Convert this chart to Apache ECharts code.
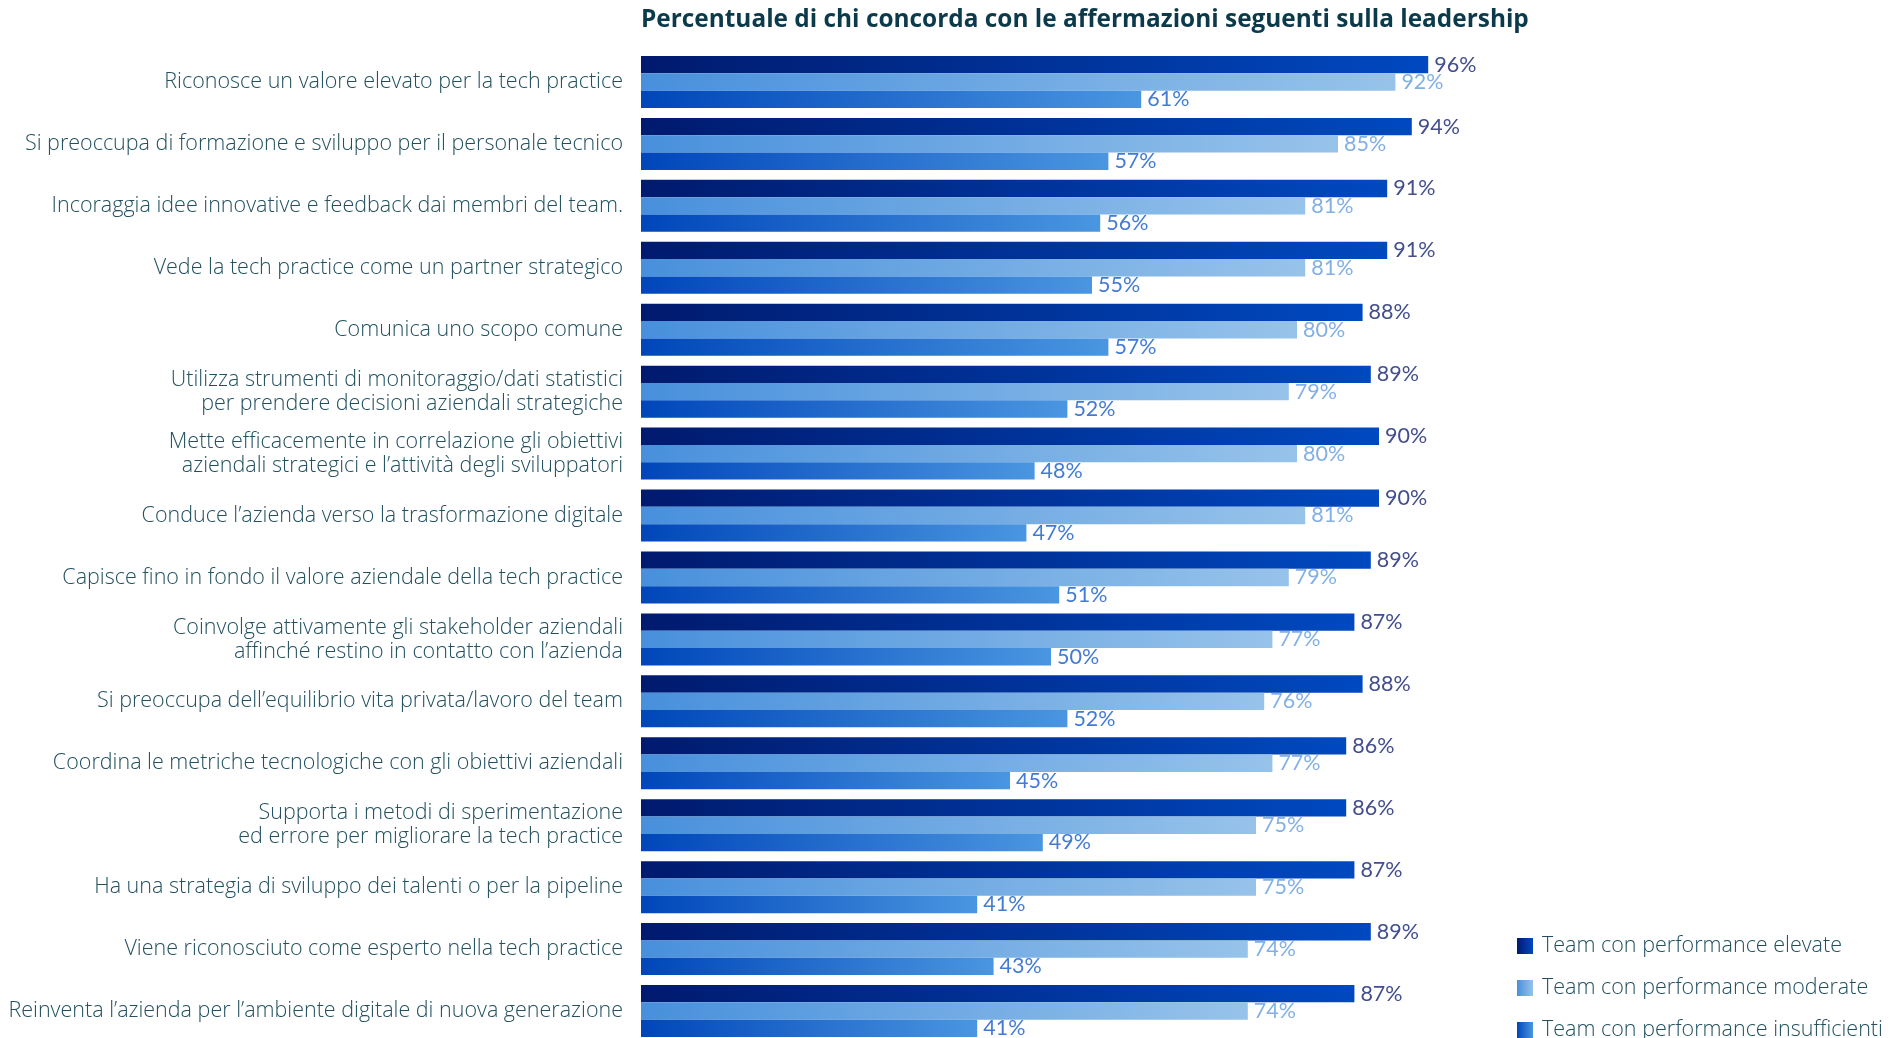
<!DOCTYPE html>
<html>
<head>
<meta charset="utf-8">
<title>Leadership</title>
<script src="https://cdn.jsdelivr.net/npm/echarts@6/dist/echarts.min.js"></script>
<style>
  html, body { margin: 0; padding: 0; background: #ffffff; }
  #chart { width: 1904px; height: 1038px; }
</style>
</head>
<body>
<div id="chart"></div>
<script>
// Affermazioni sulla leadership (dall'alto verso il basso)
const categories = [
  'Riconosce un valore elevato per la tech practice',
  'Si preoccupa di formazione e sviluppo per il personale tecnico',
  'Incoraggia idee innovative e feedback dai membri del team.',
  'Vede la tech practice come un partner strategico',
  'Comunica uno scopo comune',
  'Utilizza strumenti di monitoraggio/dati statistici\nper prendere decisioni aziendali strategiche',
  'Mette efficacemente in correlazione gli obiettivi\naziendali strategici e l\u2019attività degli sviluppatori',
  'Conduce l\u2019azienda verso la trasformazione digitale',
  'Capisce fino in fondo il valore aziendale della tech practice',
  'Coinvolge attivamente gli stakeholder aziendali\naffinché restino in contatto con l\u2019azienda',
  'Si preoccupa dell\u2019equilibrio vita privata/lavoro del team',
  'Coordina le metriche tecnologiche con gli obiettivi aziendali',
  'Supporta i metodi di sperimentazione\ned errore per migliorare la tech practice',
  'Ha una strategia di sviluppo dei talenti o per la pipeline',
  'Viene riconosciuto come esperto nella tech practice',
  'Reinventa l\u2019azienda per l\u2019ambiente digitale di nuova generazione'
];

const seriesNames = [
  'Team con performance elevate',
  'Team con performance moderate',
  'Team con performance insufficienti'
];

const elevate        = [96, 94, 91, 91, 88, 89, 90, 90, 89, 87, 88, 86, 86, 87, 89, 87];
const moderate       = [92, 85, 81, 81, 80, 79, 80, 81, 79, 77, 76, 77, 75, 75, 74, 74];
const insufficienti  = [61, 57, 56, 55, 57, 52, 48, 47, 51, 50, 52, 45, 49, 41, 43, 41];

const chart = echarts.init(document.getElementById('chart'), null, { renderer: 'canvas' });

function grad(from, to) {
  return new echarts.graphic.LinearGradient(0, 0, 1, 0, [
    { offset: 0, color: from },
    { offset: 1, color: to }
  ]);
}

const styles = [
  { color: grad('#001a6e', '#0049c0'), label: '#434e8c' },
  { color: grad('#4890dc', '#97c3ea'), label: '#82b0e4' },
  { color: grad('#0046ba', '#4a96e0'), label: '#437bd4' }
];

const values = [elevate, moderate, insufficienti];

const series = values.map((data, i) => ({
  name: seriesNames[i],
  type: 'bar',
  data: data,
  barGap: '0%',
  barCategoryGap: '16%',
  itemStyle: { color: styles[i].color },
  label: {
    show: true,
    position: 'right',
    distance: 6,
    formatter: '{c}%',
    color: styles[i].label,
    fontFamily: 'Lato',
    fontSize: 21.5
  },
  emphasis: { disabled: true },
  animation: false
}));

chart.setOption({
  backgroundColor: '#ffffff',
  animation: false,
  title: {
    text: 'Percentuale di chi concorda con le affermazioni seguenti sulla leadership',
    left: 641,
    top: 8,
    padding: 0,
    textStyle: {
      fontFamily: 'Open Sans',
      fontWeight: 'bold',
      fontSize: 24.4,
      color: '#0b3a4b'
    }
  },
  legend: {
    orient: 'vertical',
    left: 1517,
    top: 935,
    height: 200,
    padding: 0,
    itemWidth: 16,
    itemHeight: 16,
    itemGap: 20,
    icon: 'rect',
    data: seriesNames,
    selectedMode: false,
    textStyle: {
      fontFamily: 'Open Sans',
      fontWeight: 300,
      fontSize: 21.5,
      lineHeight: 16,
      color: '#22505f',
      padding: [0, 0, 0, 4]
    }
  },
  grid: {
    left: 641,
    top: 51,
    width: 820,
    height: 991,
    containLabel: false,
    outerBoundsMode: 'none'
  },
  xAxis: {
    type: 'value',
    min: 0,
    max: 100,
    show: false
  },
  yAxis: {
    type: 'category',
    inverse: true,
    data: categories,
    axisLine: { show: false },
    axisTick: { show: false },
    splitLine: { show: false },
    axisLabel: {
      margin: 18,
      fontFamily: 'Open Sans',
      fontWeight: 300,
      fontSize: 21.5,
      lineHeight: 24,
      color: '#22505f',
      align: 'right',
      verticalAlign: 'middle',
      padding: [9, 0, 0, 0]
    }
  },
  series: series
});
</script>
</body>
</html>
